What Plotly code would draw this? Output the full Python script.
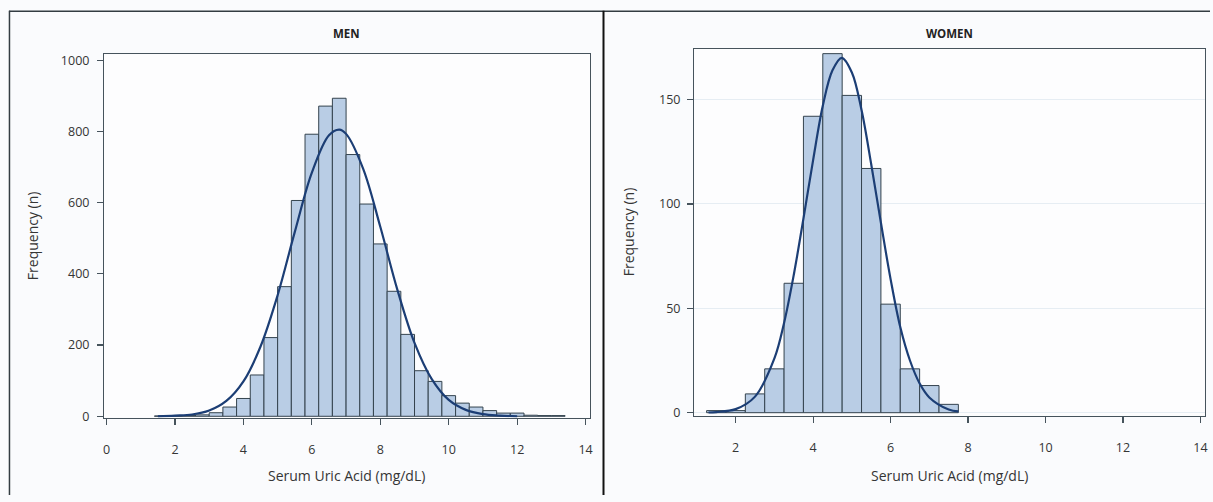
import plotly.graph_objects as go

# ---------------- data ----------------
men_bin_centers = [1.6, 2.0, 2.4, 2.8, 3.2, 3.6, 4.0, 4.4, 4.8, 5.2, 5.6, 6.0, 6.4, 6.8,
                   7.2, 7.6, 8.0, 8.4, 8.8, 9.2, 9.6, 10.0, 10.4, 10.8, 11.2, 11.6,
                   12.0, 12.4, 12.8, 13.2]
men_counts = [1, 1, 2, 4, 10, 26, 50, 116, 221, 364, 606, 792, 871, 893,
              735, 596, 484, 351, 230, 128, 98, 58, 37, 26, 16, 9, 9, 3, 2, 2]
men_bin_width = 0.4

men_curve_x = [1.5, 2.0, 2.5, 3.0, 3.5, 4.0, 4.5, 5.0, 5.5, 6.0, 6.5, 6.8, 7.0,
               7.5, 8.0, 8.5, 9.0, 9.5, 10.0, 10.5, 11.0, 11.5, 12.0]
men_curve_y = [0, 2, 5, 16, 43, 98, 196, 340, 517, 684, 789, 805, 793,
               695, 532, 355, 206, 105, 46, 18, 6, 2, 0]

women_bin_centers = [1.5, 2.0, 2.5, 3.0, 3.5, 4.0, 4.5, 5.0, 5.5, 6.0, 6.5, 7.0, 7.5]
women_counts = [1, 1, 9, 21, 62, 142, 172, 152, 117, 52, 21, 13, 4]
women_bin_width = 0.5

women_curve_x = [1.3, 1.5, 2.0, 2.5, 3.0, 3.25, 3.5, 3.75, 4.0, 4.25, 4.5, 4.74,
                 5.0, 5.25, 5.5, 5.75, 6.0, 6.25, 6.5, 6.75, 7.0, 7.5, 7.75]
women_curve_y = [0.1, 0.3, 1.7, 7.7, 26, 43, 66, 93, 121, 147, 164, 170,
                 163, 145, 119, 91, 64, 41, 25, 14, 7.3, 1.5, 0.6]

men_xticks = [0, 2, 4, 6, 8, 10, 12, 14]
men_yticks = [0, 200, 400, 600, 800, 1000]
women_xticks = [2, 4, 6, 8, 10, 12, 14]
women_yticks = [0, 50, 100, 150]

# ---------------- styles ----------------
W, H = 1213, 502
FONT = "Open Sans"
BAR_FILL = "#b9cde5"
BAR_EDGE = "#34434e"
CURVE = "#1c3e75"
AXIS = "#46535c"
TXT = "#353535"
BG = "#fafbfd"

fig = go.Figure()

fig.add_trace(go.Bar(x=men_bin_centers, y=men_counts, width=men_bin_width,
                     marker=dict(color=BAR_FILL, line=dict(color=BAR_EDGE, width=1)),
                     xaxis="x", yaxis="y", showlegend=False))
fig.add_trace(go.Scatter(x=men_curve_x, y=men_curve_y, mode="lines",
                         line=dict(color=CURVE, width=2.2, shape="spline"),
                         xaxis="x", yaxis="y", showlegend=False))
fig.add_trace(go.Bar(x=women_bin_centers, y=women_counts, width=women_bin_width,
                     marker=dict(color=BAR_FILL, line=dict(color=BAR_EDGE, width=1)),
                     xaxis="x2", yaxis="y2", showlegend=False))
fig.add_trace(go.Scatter(x=women_curve_x, y=women_curve_y, mode="lines",
                         line=dict(color=CURVE, width=2.2, shape="spline"),
                         xaxis="x2", yaxis="y2", showlegend=False))


def px_x(p):
    return p / W


def px_y(p):
    return 1 - p / H


axis_common = dict(showline=True, linecolor=AXIS, linewidth=1.2, mirror=True,
                   ticks="outside", ticklen=6, tickcolor=AXIS, tickwidth=1.2,
                   tickfont=dict(family=FONT, size=12.5, color=TXT),
                   zeroline=False, fixedrange=True)

fig.update_layout(
    width=W, height=H,
    margin=dict(l=0, r=0, t=0, b=0),
    paper_bgcolor=BG, plot_bgcolor="#fdfdfe",
    bargap=0,
    xaxis=dict(domain=[px_x(103.5), px_x(591)], range=[-0.07, 14.13],
               tickvals=men_xticks, showgrid=False, anchor="y",
               ticklabelstandoff=14, **axis_common),
    yaxis=dict(domain=[px_y(423), px_y(52.5)], range=[-3.6, 1016],
               tickvals=men_yticks, showgrid=False, anchor="x",
               ticklabelstandoff=5, **axis_common),
    xaxis2=dict(domain=[px_x(695.5), px_x(1207.7)], range=[0.93, 14.11],
                tickvals=women_xticks, showgrid=False, anchor="y2",
                ticklabelstandoff=14, **axis_common),
    yaxis2=dict(domain=[px_y(421), px_y(47)], range=[-1.4, 174.2],
                tickvals=women_yticks, showgrid=True, gridcolor="#e6edf3",
                gridwidth=1, anchor="x2", ticklabelstandoff=4, **axis_common),
)

ann_font = dict(family=FONT, size=14, color=TXT)
annotations = [
    dict(text="<b>MEN</b>", x=px_x(347), y=px_y(31),
         font=dict(family=FONT, size=11.5, color="#222")),
    dict(text="<b>WOMEN</b>", x=px_x(952), y=px_y(31),
         font=dict(family=FONT, size=11.5, color="#222")),
    dict(text="Serum Uric Acid (mg/dL)", x=px_x(347), y=px_y(482), font=ann_font),
    dict(text="Serum Uric Acid (mg/dL)", x=px_x(952), y=px_y(482), font=ann_font),
    dict(text="Frequency (n)", x=px_x(31), y=px_y(237), textangle=-90, font=ann_font),
    dict(text="Frequency (n)", x=px_x(629), y=px_y(233), textangle=-90, font=ann_font),
]
for a in annotations:
    a.update(xref="paper", yref="paper", showarrow=False,
             xanchor="center", yanchor="middle")
fig.update_layout(annotations=annotations)

# panel borders
shapes = [
    dict(type="line", x0=px_x(8), x1=1.0, y0=px_y(8.5), y1=px_y(8.5),
         line=dict(color="#333c42", width=1.5)),
    dict(type="line", x0=px_x(8.5), x1=px_x(8.5), y0=px_y(8), y1=0,
         line=dict(color="#333c42", width=1.5)),
    dict(type="line", x0=px_x(604.5), x1=px_x(604.5), y0=px_y(8), y1=0,
         line=dict(color="#111111", width=2)),
]
for s in shapes:
    s.update(xref="paper", yref="paper")
fig.update_layout(shapes=shapes)

fig.write_html(
    "out.html",
    config={"displayModeBar": False, "staticPlot": True},
    post_script="document.body.style.margin='0';document.body.style.overflow='hidden';",
)
